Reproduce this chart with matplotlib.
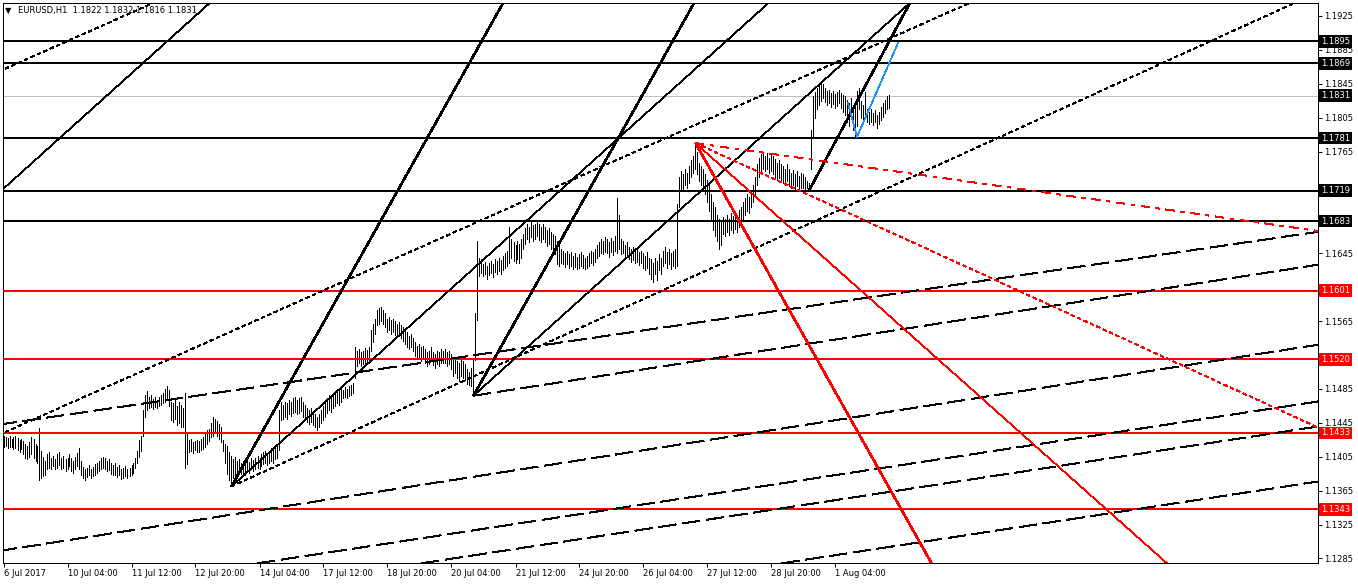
import matplotlib
matplotlib.use("Agg")
import matplotlib.pyplot as plt
import numpy as np

plt.rcParams['font.family'] = ['DejaVu Sans']
plt.rcParams['lines.scale_dashes'] = False

# ---------------- data ----------------
highs = [
1.1430,1.1428,1.1427,1.1429,1.1426,1.1428,1.1430,1.1427,1.1425,1.1426,
1.1424,1.1420,1.1418,1.1422,1.1428,1.1426,1.1420,1.1418,1.1439,1.1412,
1.1405,1.1400,1.1408,1.1410,1.1404,1.1406,1.1402,1.1408,1.1410,1.1404,
1.1406,1.1402,1.1404,1.1408,1.1403,1.1400,1.1405,1.1409,1.1415,1.1400,
1.1393,1.1390,1.1392,1.1395,1.1391,1.1393,1.1396,1.1398,1.1400,1.1403,
1.1405,1.1403,1.1400,1.1402,1.1398,1.1395,1.1397,1.1393,1.1395,1.1390,
1.1392,1.1394,1.1390,1.1392,1.1395,1.1398,1.1404,1.1412,1.1425,1.1430,
1.1460,1.1478,1.1482,1.1476,1.1478,1.1473,1.1476,1.1472,1.1475,1.1478,
1.1480,1.1485,1.1488,1.1484,1.1470,1.1468,1.1472,1.1465,1.1470,1.1466,
1.1462,1.1480,1.1432,1.1425,1.1426,1.1422,1.1424,1.1425,1.1423,1.1426,
1.1428,1.1432,1.1436,1.1438,1.1445,1.1452,1.1450,1.1447,1.1444,1.1440,
1.1425,1.1420,1.1418,1.1410,1.1406,1.1402,1.1405,1.1400,1.1402,1.1398,
1.1400,1.1397,1.1402,1.1399,1.1404,1.1401,1.1403,1.1406,1.1404,1.1408,
1.1410,1.1412,1.1408,1.1412,1.1415,1.1413,1.1416,1.1418,1.1460,1.1470,
1.1466,1.1470,1.1468,1.1472,1.1470,1.1474,1.1476,1.1472,1.1474,1.1476,
1.1470,1.1466,1.1463,1.1460,1.1462,1.1458,1.1455,1.1452,1.1455,1.1460,
1.1465,1.1470,1.1474,1.1478,1.1476,1.1480,1.1483,1.1485,1.1482,1.1486,
1.1484,1.1487,1.1485,1.1488,1.1490,1.1492,1.1535,1.1530,1.1532,1.1528,
1.1530,1.1533,1.1531,1.1535,1.1555,1.1562,1.1568,1.1578,1.1580,1.1582,
1.1578,1.1575,1.1568,1.1570,1.1566,1.1568,1.1565,1.1562,1.1564,1.1560,
1.1558,1.1555,1.1552,1.1548,1.1550,1.1545,1.1540,1.1536,1.1538,1.1534,
1.1536,1.1532,1.1528,1.1530,1.1534,1.1529,1.1526,1.1530,1.1528,1.1532,
1.1530,1.1532,1.1528,1.1530,1.1526,1.1520,1.1522,1.1518,1.1515,1.1520,
1.1518,1.1514,1.1508,1.1505,1.1510,1.1522,1.1575,1.1660,1.1640,1.1638,
1.1632,1.1635,1.1630,1.1634,1.1636,1.1632,1.1638,1.1636,1.1640,1.1637,
1.1642,1.1645,1.1648,1.1676,1.1662,1.1658,1.1655,1.1660,1.1656,1.1662,
1.1668,1.1675,1.1680,1.1676,1.1682,1.1678,1.1680,1.1683,1.1679,1.1676,
1.1680,1.1676,1.1672,1.1675,1.1670,1.1668,1.1665,1.1660,1.1654,1.1650,
1.1648,1.1645,1.1648,1.1644,1.1646,1.1642,1.1645,1.1641,1.1644,1.1646,
1.1643,1.1640,1.1642,1.1645,1.1648,1.1646,1.1650,1.1655,1.1658,1.1662,
1.1660,1.1664,1.1662,1.1658,1.1663,1.1660,1.1665,1.1710,1.1690,1.1662,
1.1660,1.1655,1.1658,1.1653,1.1650,1.1652,1.1648,1.1650,1.1646,1.1648,
1.1645,1.1642,1.1646,1.1640,1.1638,1.1634,1.1640,1.1636,1.1644,1.1640,
1.1648,1.1652,1.1646,1.1650,1.1645,1.1648,1.1650,1.1703,1.1735,1.1742,
1.1738,1.1745,1.1740,1.1748,1.1755,1.1760,1.1775,1.1765,1.1752,1.1748,
1.1745,1.1738,1.1732,1.1725,1.1715,1.1705,1.1700,1.1690,1.1685,1.1682,
1.1688,1.1685,1.1690,1.1686,1.1692,1.1689,1.1694,1.1690,1.1696,1.1700,
1.1705,1.1710,1.1715,1.1712,1.1720,1.1725,1.1735,1.1750,1.1758,1.1762,
1.1765,1.1760,1.1763,1.1758,1.1762,1.1760,1.1756,1.1752,1.1755,1.1750,
1.1748,1.1745,1.1750,1.1744,1.1740,1.1743,1.1738,1.1742,1.1736,1.1740,
1.1738,1.1735,1.1730,1.1728,1.1790,1.1830,1.1835,1.1840,1.1845,1.1848,
1.1845,1.1840,1.1836,1.1838,1.1834,1.1837,1.1833,1.1835,1.1838,1.1834,
1.1832,1.1830,1.1826,1.1822,1.1828,1.1820,1.1818,1.1836,1.1840,1.1825,
1.1820,1.1835,1.1815,1.1812,1.1815,1.1810,1.1814,1.1808,1.1812,1.1818,
1.1822,1.1826,1.1830,1.1832]
lows = [
1.1417,1.1418,1.1415,1.1416,1.1417,1.1414,1.1415,1.1413,1.1411,1.1414,
1.1408,1.1404,1.1402,1.1405,1.1408,1.1404,1.1400,1.1398,1.1378,1.1380,
1.1382,1.1384,1.1390,1.1392,1.1390,1.1394,1.1390,1.1392,1.1395,1.1391,
1.1392,1.1388,1.1390,1.1394,1.1388,1.1386,1.1390,1.1394,1.1391,1.1384,
1.1380,1.1378,1.1381,1.1383,1.1380,1.1382,1.1384,1.1386,1.1388,1.1390,
1.1392,1.1390,1.1388,1.1389,1.1385,1.1383,1.1384,1.1381,1.1383,1.1379,
1.1380,1.1382,1.1380,1.1382,1.1384,1.1386,1.1392,1.1398,1.1405,1.1412,
1.1430,1.1452,1.1460,1.1463,1.1464,1.1461,1.1464,1.1462,1.1465,1.1466,
1.1468,1.1470,1.1472,1.1465,1.1448,1.1446,1.1450,1.1442,1.1445,1.1440,
1.1440,1.1392,1.1396,1.1410,1.1412,1.1409,1.1413,1.1411,1.1410,1.1413,
1.1414,1.1417,1.1420,1.1424,1.1428,1.1430,1.1433,1.1430,1.1426,1.1422,
1.1412,1.1398,1.1385,1.1378,1.1370,1.1380,1.1384,1.1386,1.1388,1.1385,
1.1386,1.1384,1.1388,1.1386,1.1390,1.1388,1.1390,1.1392,1.1390,1.1394,
1.1396,1.1398,1.1395,1.1398,1.1400,1.1398,1.1402,1.1404,1.1413,1.1448,
1.1450,1.1452,1.1450,1.1455,1.1453,1.1456,1.1458,1.1455,1.1456,1.1459,
1.1452,1.1448,1.1446,1.1444,1.1446,1.1442,1.1440,1.1437,1.1440,1.1445,
1.1448,1.1452,1.1456,1.1460,1.1458,1.1462,1.1465,1.1468,1.1466,1.1470,
1.1474,1.1476,1.1474,1.1477,1.1478,1.1480,1.1498,1.1512,1.1515,1.1512,
1.1514,1.1516,1.1515,1.1518,1.1530,1.1540,1.1550,1.1560,1.1562,1.1565,
1.1562,1.1558,1.1552,1.1555,1.1550,1.1552,1.1549,1.1547,1.1548,1.1545,
1.1541,1.1538,1.1535,1.1532,1.1534,1.1530,1.1524,1.1520,1.1522,1.1518,
1.1520,1.1516,1.1512,1.1514,1.1518,1.1513,1.1510,1.1514,1.1512,1.1516,
1.1515,1.1516,1.1512,1.1514,1.1508,1.1500,1.1504,1.1498,1.1494,1.1500,
1.1498,1.1496,1.1491,1.1490,1.1488,1.1477,1.1519,1.1566,1.1618,1.1622,
1.1618,1.1620,1.1615,1.1619,1.1622,1.1617,1.1623,1.1620,1.1624,1.1621,
1.1625,1.1628,1.1630,1.1634,1.1640,1.1636,1.1634,1.1638,1.1634,1.1640,
1.1650,1.1656,1.1662,1.1658,1.1664,1.1660,1.1662,1.1665,1.1661,1.1658,
1.1662,1.1658,1.1654,1.1656,1.1650,1.1648,1.1644,1.1632,1.1630,1.1634,
1.1632,1.1629,1.1632,1.1628,1.1630,1.1626,1.1629,1.1626,1.1628,1.1630,
1.1628,1.1626,1.1628,1.1630,1.1633,1.1631,1.1635,1.1640,1.1642,1.1645,
1.1644,1.1646,1.1645,1.1641,1.1646,1.1643,1.1648,1.1645,1.1650,1.1644,
1.1645,1.1640,1.1642,1.1638,1.1635,1.1637,1.1633,1.1635,1.1631,1.1633,
1.1628,1.1625,1.1628,1.1620,1.1615,1.1611,1.1620,1.1614,1.1625,1.1620,
1.1630,1.1634,1.1628,1.1632,1.1626,1.1630,1.1628,1.1630,1.1700,1.1718,
1.1720,1.1725,1.1722,1.1728,1.1735,1.1740,1.1745,1.1738,1.1730,1.1725,
1.1722,1.1715,1.1705,1.1695,1.1685,1.1672,1.1665,1.1660,1.1650,1.1655,
1.1668,1.1665,1.1670,1.1666,1.1672,1.1669,1.1674,1.1670,1.1676,1.1680,
1.1685,1.1690,1.1695,1.1692,1.1700,1.1705,1.1712,1.1725,1.1735,1.1740,
1.1745,1.1742,1.1744,1.1740,1.1742,1.1738,1.1735,1.1732,1.1734,1.1730,
1.1728,1.1725,1.1730,1.1724,1.1722,1.1726,1.1720,1.1724,1.1719,1.1722,
1.1722,1.1720,1.1722,1.1720,1.1745,1.1782,1.1805,1.1815,1.1820,1.1825,
1.1828,1.1824,1.1820,1.1822,1.1818,1.1821,1.1817,1.1819,1.1822,1.1816,
1.1812,1.1808,1.1800,1.1795,1.1805,1.1790,1.1782,1.1795,1.1815,1.1805,
1.1802,1.1806,1.1800,1.1798,1.1800,1.1796,1.1800,1.1793,1.1798,1.1802,
1.1806,1.1810,1.1815,1.1816]

x_tick_bars = [0, 32, 64, 96, 128, 160, 192, 224, 256, 288, 320, 352, 384, 416]
x_tick_labels = ["6 Jul 2017", "10 Jul 04:00", "11 Jul 12:00", "12 Jul 20:00",
                 "14 Jul 04:00", "17 Jul 12:00", "18 Jul 20:00", "20 Jul 04:00",
                 "21 Jul 12:00", "24 Jul 20:00", "26 Jul 04:00", "27 Jul 12:00",
                 "28 Jul 20:00", "1 Aug 04:00"]
y_ticks = [1.1285, 1.1325, 1.1365, 1.1405, 1.1445, 1.1485, 1.1525, 1.1565,
           1.1605, 1.1645, 1.1685, 1.1725, 1.1765, 1.1805, 1.1845, 1.1885, 1.1925]
y_hidden = [1.1525, 1.1605, 1.1685, 1.1725]   # covered by the level boxes

black_levels = [1.1895, 1.1869, 1.1781, 1.1719, 1.1683]
red_levels = [1.1601, 1.1520, 1.1433, 1.1343]
current_price = 1.1831
title_text = "EURUSD,H1  1.1822 1.1832 1.1816 1.1831"

# trend lines: (anchor bar, anchor price, slope per bar, is_ray)
thick_black = [(114, 1.1370, 0.000420, True), (235, 1.1477, 0.000420, True),
               (403, 1.1720, 0.000439, True)]
thin_black = [(0, 1.17213, 0.0002124, False), (114, 1.1370, 0.0002124, True),
              (235, 1.1477, 0.0002124, True)]
dotted_black = [(0, 1.18618, 0.000105, False), (0, 1.14332, 0.000105, False),
                (114, 1.1370, 0.0001073, True)]
dashed_black = [(0, 1.14436, 0.0000345, False), (235, 1.1477, 0.0000366, True),
                (0, 1.12946, 0.0000369, False), (438.25, 1.13913, 0.000036, False),
                (438.25, 1.13618, 0.000036, False), (438.25, 1.12969, 0.000036, False)]
red_fan_anchor = (346, 1.1775)
red_fan_slopes = [-0.000420, -0.0002103, -0.0001078, -0.0000333]
blue_bars = [422.25, 426.75, 447.25]
blue_prices = [1.18223, 1.17822, 1.18931]

# ---------------- figure ----------------
W, H = 1358, 584
fig = plt.figure(figsize=(W / 100, H / 100), dpi=100)
L, R, T, B = 3, 1318, 3, 563
ax = fig.add_axes([L / W, (H - B) / H, (R - L) / W, (B - T) / H])
XMIN, XMAX = -0.25, 657.25
YMIN, YMAX = 1.12796, 1.19403
ax.set_xlim(XMIN, XMAX)
ax.set_ylim(YMIN, YMAX)

PX = 0.72  # one pixel in points
THIN = 0.5
THICK = 1.15
aa = False

n = min(len(highs), len(lows))
bars = np.arange(n)
ax.vlines(bars, lows[:n], highs[:n], colors='black', linewidth=PX, antialiased=aa, zorder=2)

for lv in black_levels:
    ax.axhline(lv, color='black', lw=2 * PX, antialiased=aa, zorder=3)
for lv in red_levels:
    ax.axhline(lv, color='#FF0000', lw=2 * PX, antialiased=aa, zorder=3)
ax.axhline(current_price, color='#C0C0C0', lw=THIN, antialiased=aa, zorder=1.5)

DASH = (0, (18 * PX, 6 * PX))
DOT = (0, (3 * PX, 3 * PX))
DASHDOT = (0, (9 * PX, 6 * PX, 3 * PX, 6 * PX))


def draw_line(b0, p0, k, ray, **kw):
    xs = np.array([b0 if ray else -100.0, 800.0])
    ys = p0 + k * (xs - b0)
    ax.plot(xs, ys, antialiased=aa, zorder=3, solid_capstyle='butt', **kw)


for b0, p0, k, ray in thick_black:
    draw_line(b0, p0, k, ray, color='black', lw=THICK)
for b0, p0, k, ray in thin_black:
    draw_line(b0, p0, k, ray, color='black', lw=THIN)
for b0, p0, k, ray in dotted_black:
    draw_line(b0, p0, k, ray, color='black', lw=THIN, linestyle=DOT)
for b0, p0, k, ray in dashed_black:
    draw_line(b0, p0, k, ray, color='black', lw=THIN, linestyle=DASH)

rb, rp = red_fan_anchor
red_styles = [dict(lw=THICK), dict(lw=THIN), dict(lw=THIN, linestyle=DOT),
              dict(lw=THIN, linestyle=DASHDOT)]
for k, st in zip(red_fan_slopes, red_styles):
    draw_line(rb, rp, k, True, color='#FF0000', **st)

ax.plot(blue_bars, blue_prices, color='#1E90FF', lw=THIN, antialiased=aa, zorder=3)

# axes styling
for s in ax.spines.values():
    s.set_color('black')
    s.set_linewidth(PX)
ax.set_facecolor('white')
ax.set_xticks(x_tick_bars)
ax.set_xticklabels(x_tick_labels)
for lab in ax.get_xticklabels():
    lab.set_horizontalalignment('left')
ax.tick_params(axis='x', direction='out', length=4 * PX, width=PX, pad=1.2,
               labelsize=6, colors='black')
ax.yaxis.tick_right()
ax.set_yticks(y_ticks)
ax.set_yticklabels(["" if v in y_hidden else "%.4f" % v for v in y_ticks])
ax.tick_params(axis='y', direction='out', length=4 * PX, width=PX, pad=1.5,
               labelsize=6, colors='black')

ytr = ax.get_yaxis_transform()
xoff = 1.0 + 3.2 / (R - L)
for lv in black_levels + [current_price]:
    ax.text(xoff, lv, "%.4f" % lv, transform=ytr, va='center', ha='left',
            color='white', fontsize=6, zorder=5,
            bbox=dict(boxstyle='square,pad=0.22', fc='black', ec='none'))
for lv in red_levels:
    ax.text(xoff, lv, "%.4f" % lv, transform=ytr, va='center', ha='left',
            color='white', fontsize=6, zorder=5,
            bbox=dict(boxstyle='square,pad=0.22', fc='#FF0000', ec='none'))

fig.text(5 / W, 1 - 10.5 / H, "\u25BC", fontsize=6, va='center', ha='left', color='black')
fig.text(18 / W, 1 - 10.5 / H, title_text, fontsize=6, va='center', ha='left', color='black')

fig.savefig("out.png", dpi=100, facecolor='white')
